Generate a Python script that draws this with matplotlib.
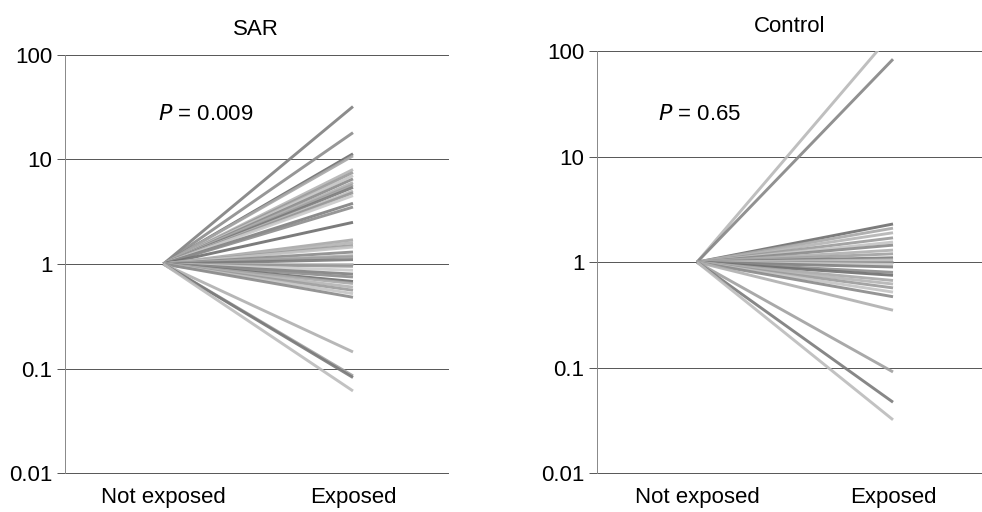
import matplotlib
matplotlib.use("Agg")
import matplotlib.pyplot as plt
from matplotlib.ticker import FixedLocator, NullLocator

plt.rcParams['font.family'] = ['Liberation Sans', 'DejaVu Sans']

conditions = ["Not exposed", "Exposed"]
panel_titles = ["SAR", "Control"]
p_labels = ["0.009", "0.65"]
baseline = 1.0

sar_exposed = [32, 18, 11.3, 10.8, 8.0, 7.5, 7.0, 6.5, 6.0, 5.7, 5.4, 5.0, 4.8, 4.5,
               3.8, 3.5, 2.5, 1.7, 1.6, 1.5, 1.45, 1.3, 1.2, 1.17, 1.1, 1.0, 0.95,
               0.87, 0.8, 0.75, 0.68, 0.65, 0.6, 0.56, 0.52, 0.48, 0.144, 0.085,
               0.082, 0.061]
control_exposed = [150, 84, 2.3, 2.1, 1.9, 1.7, 1.55, 1.45, 1.3, 1.2, 1.1, 1.05, 1.0,
                   0.95, 0.9, 0.8, 0.75, 0.67, 0.62, 0.57, 0.52, 0.47, 0.35, 0.091,
                   0.047, 0.032]

yticks = [0.01, 0.1, 1, 10, 100]
ytick_labels = ["0.01", "0.1", "1", "10", "100"]

shades = ["#808080", "#8c8c8c", "#6e6e6e", "#a8a8a8", "#b4b4b4", "#9a9a9a", "#c4c4c4",
          "#8a8a8a", "#b0b0b0", "#a0a0a0", "#7a7a7a", "#bcbcbc", "#969696", "#cacaca"]

fig = plt.figure(figsize=(9.82, 5.12), dpi=100)
axes_pos = [[0.066, 0.076, 0.390, 0.817], [0.608, 0.076, 0.392, 0.824]]
xlims = [(-0.52, 1.5), (-0.51, 1.454)]
all_series = [sar_exposed, control_exposed]
p_pos = [(-0.03, 27), (-0.2, 25)]

for i, (pos, series) in enumerate(zip(axes_pos, all_series)):
    ax = fig.add_axes(pos)
    ax.set_yscale('log')
    ax.set_ylim(0.01, 100)
    ax.set_xlim(*xlims[i])
    for k, v in enumerate(series):
        if i == 1 and k == 0:
            col = "#b8b8b8"
        elif i == 1 and k == 1:
            col = "#858585"
        else:
            col = shades[k % len(shades)]
        ax.plot([0, 1], [baseline, v], color=col, lw=2.1, alpha=0.9,
                solid_capstyle='butt', zorder=3)
    for t in yticks:
        ax.axhline(t, color="#555555", lw=0.7, zorder=1, clip_on=False)
    ax.yaxis.set_major_locator(FixedLocator(yticks))
    ax.yaxis.set_minor_locator(NullLocator())
    ax.set_yticklabels(ytick_labels)
    ax.set_xticks([0, 1])
    ax.set_xticklabels(conditions)
    ax.tick_params(axis='x', length=0, labelsize=16, pad=10)
    ax.tick_params(axis='y', length=6, width=0.7, color="#555555", labelsize=16, pad=3)
    for s in ['top', 'right', 'bottom']:
        ax.spines[s].set_visible(False)
    ax.spines['left'].set_color("#888888")
    ax.spines['left'].set_linewidth(0.7)
    ax.set_title(panel_titles[i], fontsize=16, pad=14)
    ax.text(p_pos[i][0], p_pos[i][1], "$P$ = " + p_labels[i], fontsize=16,
            ha='left', va='center')

fig.savefig("out.png", dpi=100)
